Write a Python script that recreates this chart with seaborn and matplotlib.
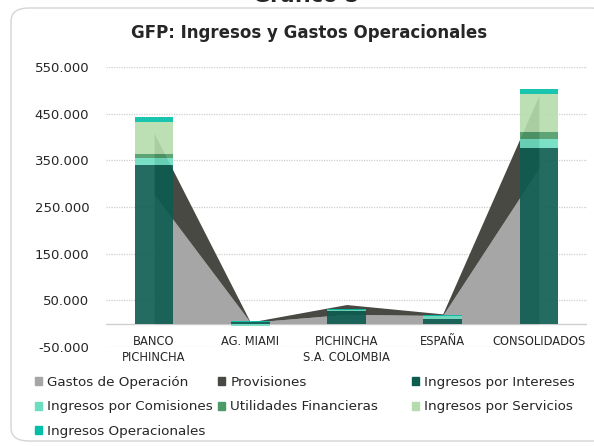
import matplotlib
matplotlib.use("Agg")
import numpy as np
import seaborn as sns
import matplotlib.pyplot as plt
from matplotlib.patches import FancyBboxPatch, Patch

# values
categories = ["BANCO\nPICHINCHA", "AG. MIAMI", "PICHINCHA\nS.A. COLOMBIA", "ESPAÑA", "CONSOLIDADOS"]
gastos_operacion = [277000, 3000, 20000, 17500, 333000]
provisiones = [131000, 500, 21000, 3500, 156000]
ingresos_intereses = [340000, 2800, 26500, 10500, 376000]
ingresos_comisiones = [14000, -4000, 2000, 5500, 20000]
utilidades_financieras = [10500, 0, 1500, 0, 15500]
ingresos_servicios = [67000, 300, 0, 0, 81500]
ingresos_operacionales = [10500, 2500, 1800, 3000, 9500]
y_ticks = [-50000, 50000, 150000, 250000, 350000, 450000, 550000]

c_gastos = "#A6A6A6"
c_prov = "#484943"
c_int = "#0C5C50"
c_com = "#6CDDC0"
c_util = "#4C9A68"
c_serv = "#B5DCAC"
c_oper = "#00BFA6"

sns.set_theme(style="white")
plt.rcParams["font.family"] = ["DejaVu Sans"]

fig = plt.figure(figsize=(5.94, 4.46), dpi=100)
fig.patch.set_facecolor("white")

# rounded chart frame
frame = FancyBboxPatch((11 / 594, 5 / 446), 600 / 594, 433 / 446,
                       boxstyle="round,pad=0,rounding_size=0.03",
                       transform=fig.transFigure, facecolor="none",
                       edgecolor="#D5D5D5", linewidth=1.0, zorder=-5)
fig.patches.append(frame)

ax = fig.add_axes([106 / 594, 1 - 347 / 446, 481 / 594, 280 / 446])
ax.set_facecolor("none")
x = np.arange(len(categories))

# stacked areas behind the bars
ax.stackplot(x, gastos_operacion, provisiones, colors=[c_gastos, c_prov],
             linewidth=0, zorder=2)

# stacked bars
sns.barplot(x=categories, y=ingresos_intereses, color=c_int, saturation=1,
            width=0.4, errorbar=None, alpha=0.9, linewidth=0, ax=ax, zorder=3)
pos_bottom = np.clip(np.array(ingresos_intereses, float), 0, None)
neg_bottom = np.clip(np.array(ingresos_intereses, float), None, 0)
for vals, col in [(ingresos_comisiones, c_com), (utilidades_financieras, c_util),
                  (ingresos_servicios, c_serv), (ingresos_operacionales, c_oper)]:
    v = np.array(vals, float)
    bottom = np.where(v >= 0, pos_bottom, neg_bottom)
    ax.bar(x, v, width=0.4, bottom=bottom, color=col, alpha=0.9,
           linewidth=0, zorder=3)
    pos_bottom += np.clip(v, 0, None)
    neg_bottom += np.clip(v, None, 0)

ax.set_xlim(-0.5, 4.5)
ax.set_ylim(-50000, 550000)
ax.set_yticks(y_ticks)
ax.set_yticklabels([f"{v:,.0f}".replace(",", ".") for v in y_ticks])
for v in y_ticks:
    ax.axhline(v, color="#CFCFCF", linewidth=0.9, linestyle=(0, (1, 1)), zorder=1)
ax.axhline(0, color="#D0D0D0", linewidth=1.0, zorder=1)

for s in ax.spines.values():
    s.set_visible(False)
ax.spines["bottom"].set_position(("data", 0))
ax.tick_params(axis="y", length=0, pad=12, labelsize=9.5, labelcolor="#262626")
ax.set_xticks(x)
ax.set_xticklabels(categories, fontsize=8.3, color="#262626", linespacing=1.3)
ax.tick_params(axis="x", length=0, pad=8)
ax.set_xlabel("")
ax.set_ylabel("")

fig.text(0.52, 1 - 33 / 446, "GFP: Ingresos y Gastos Operacionales",
         ha="center", va="center", fontsize=12, fontweight="bold", color="#262626")
fig.text(0.515, 1 - 1.5 / 446, "Gráfico 5", ha="center", va="baseline",
         fontsize=15, fontweight="bold", color="#262626")

# legend: three fixed columns like the original
legend_cols = [
    (35, [("Gastos de Operación", c_gastos), ("Ingresos por Comisiones", c_com),
          ("Ingresos Operacionales", c_oper)]),
    (218, [("Provisiones", c_prov), ("Utilidades Financieras", c_util)]),
    (412, [("Ingresos por Intereses", c_int), ("Ingresos por Servicios", c_serv)]),
]
for xpos, items in legend_cols:
    hs = [Patch(color=c, label=l) for l, c in items]
    fig.legend(handles=hs, ncol=1, loc="upper left",
               bbox_to_anchor=(xpos / 594, 1 - 376 / 446), frameon=False,
               borderpad=0, borderaxespad=0,
               fontsize=9.7, handlelength=0.55, handleheight=0.55,
               handletextpad=0.35, labelspacing=0.85, labelcolor="#262626")

fig.savefig("out.png", dpi=100, facecolor="white")
